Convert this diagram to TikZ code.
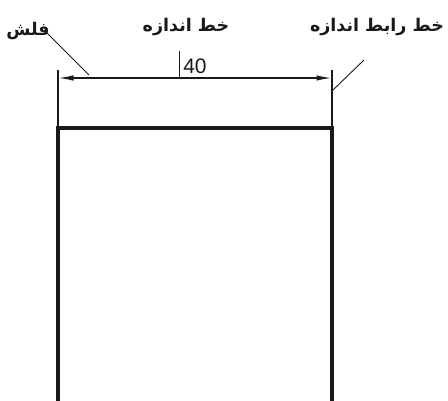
\documentclass[tikz,border=0pt]{standalone}
\usepackage{fontspec}
\TeXXeTstate=1
\newfontfamily\arabicfont[Script=Arabic]{DejaVu Sans}
\setsansfont{Liberation Sans}
\tikzset{
    thickline/.style={line width=3.4pt, black!90},
    thinline/.style={line width=1.4pt, black!90},
    leaderline/.style={line width=0.9pt, black!90},
    dimarrow/.style={-{Latex[length=15pt,width=5.5pt]}, line width=1.4pt, black!90},
    farsilabel/.style={font=\arabicfont\bfseries\fontsize{17.5}{20}\selectfont, inner sep=0pt, text=black!90}
}
\usetikzlibrary{arrows.meta}
\begin{document}
\begin{tikzpicture}[x=1pt,y=-1pt]
    \useasboundingbox (0,0) rectangle (448,401);
    % corners of the part
    \coordinate (cornerl) at (58,128);
    \coordinate (cornerr) at (332,128);
    \coordinate (bottoml) at (58,401);
    \coordinate (bottomr) at (332,401);
    % ends of the lines
    \coordinate (extl) at (58,70);
    \coordinate (extr) at (332,70);
    \coordinate (diml) at (58.5,78);
    \coordinate (dimr) at (331.5,78);
    \coordinate (mid) at (179.5,78);
    \coordinate (midtop) at (179.5,51);
    \coordinate (arrowend) at (89,75);
    \coordinate (arrowfree) at (47,33);
    \coordinate (extpoint) at (333,90);
    \coordinate (extfree) at (364,60);

    \draw[thickline] (bottoml) -- (cornerl) -- (cornerr) -- (bottomr);
    \draw[thinline] (extl) -- (cornerl);
    \draw[thinline] (extr) -- (cornerr);
    \draw[dimarrow] (mid) -- (diml);
    \draw[dimarrow] (mid) -- (dimr);
    \draw[thinline] (mid) -- (midtop);
    \draw[leaderline] (arrowfree) -- (arrowend);
    \draw[leaderline] (extpoint) -- (extfree);

    \node (value) at (195,66.5) [inner sep=0pt, font=\sffamily\fontsize{21}{24}\selectfont, text=black!90] {40};
    \node (flesh) at (28,31) [farsilabel] {\beginR فلش\endR};
    \node (dimline) at (186,27) [farsilabel] {\beginR خط اندازه\endR};
    \node (extline) at (377,27) [farsilabel] {\beginR خط رابط اندازه\endR};
\end{tikzpicture}
\end{document}
